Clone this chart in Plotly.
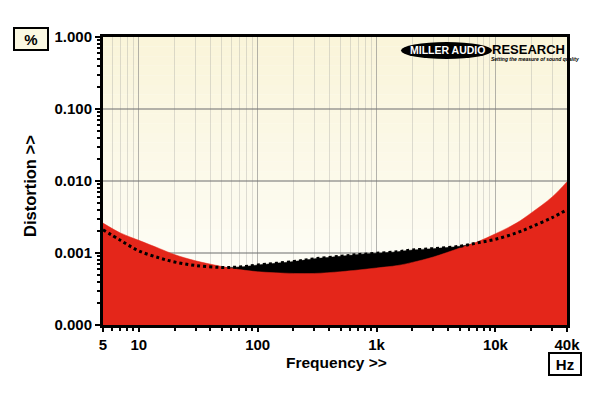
import numpy as np
import plotly.graph_objects as go

# ---- data ----
freq = [5, 7, 10, 15, 20, 30, 50, 70, 100, 200, 300, 500, 700, 1000, 1500,
        2000, 3000, 5000, 7000, 10000, 15000, 20000, 30000, 40000]
red_thd = [0.0026, 0.0019, 0.0015, 0.00115, 0.00095, 0.00078, 0.00065, 0.00059,
           0.00055, 0.00052, 0.00052, 0.00055, 0.00058, 0.00062, 0.00067,
           0.00074, 0.00088, 0.00117, 0.00142, 0.00185, 0.0026, 0.0036,
           0.0060, 0.0098]
black_thd = [0.0021, 0.0015, 0.00107, 0.00085, 0.00075, 0.00067, 0.00063, 0.00064,
             0.00068, 0.00076, 0.00083, 0.0009, 0.00095, 0.00099, 0.00104,
             0.0011, 0.00115, 0.00124, 0.00138, 0.00155, 0.0019, 0.0023,
             0.0031, 0.0040]

y_ticks = [0.0001, 0.001, 0.01, 0.1, 1]
y_ticktext = ["0.000", "0.001", "0.010", "0.100", "1.000"]
x_ticks = [5, 10, 100, 1000, 10000, 40000]
x_ticktext = ["5", "10", "100", "1k", "10k", "40k"]

x_minor = [m * d for d in [1, 10, 100, 1000, 10000] for m in range(2, 10)
           if 5 < m * d < 40000 and m * d not in x_ticks]
y_minor = [m * d for d in [0.0001, 0.001, 0.01, 0.1] for m in range(2, 10)]

y_floor = 1e-5
RED = "#e4261a"
FONT = "Liberation Sans, Arial, sans-serif"

# plot-area geometry in pixels (used only to place decorations)
L, R, T, B = 103, 567, 37, 325
def px(x):
    return (x - L) / (R - L)
def py(y):
    return (B - y) / (B - T)

fig = go.Figure()

base = [y_floor] * len(freq)
fig.add_trace(go.Scatter(x=freq, y=base, mode="lines", line=dict(width=0),
                         hoverinfo="skip", showlegend=False))
fig.add_trace(go.Scatter(x=freq, y=black_thd, mode="lines", fill="tonexty",
                         fillcolor="#000000",
                         line=dict(color="#000000", width=0.5, shape="spline"),
                         hoverinfo="skip", showlegend=False))
fig.add_trace(go.Scatter(x=freq, y=base, mode="lines", line=dict(width=0),
                         hoverinfo="skip", showlegend=False))
fig.add_trace(go.Scatter(x=freq, y=red_thd, mode="lines", fill="tonexty",
                         fillcolor=RED,
                         line=dict(color=RED, width=0.5, shape="spline"),
                         hoverinfo="skip", showlegend=False))
fig.add_trace(go.Scatter(x=freq, y=black_thd, mode="lines",
                         line=dict(color="#000000", width=3, dash="dot",
                                   shape="spline"),
                         showlegend=False))

# background gradient (cream at top, near-white lower down)
shapes = []
n = 30
top = np.array([250, 245, 218])
bot = np.array([254, 253, 245])
for i in range(n):
    t = i / (n - 1)
    c = (top + (bot - top) * min(1.0, t * 1.3)).astype(int)
    shapes.append(dict(type="rect", xref="x domain", yref="y domain",
                       x0=0, x1=1, y0=1 - (i + 1) / n, y1=1 - i / n,
                       fillcolor=f"rgb({c[0]},{c[1]},{c[2]})",
                       line=dict(width=0), layer="below"))
# logo ellipse
shapes.append(dict(type="circle", xref="paper", yref="paper",
                   x0=px(401), x1=px(492), y0=py(59), y1=py(42),
                   fillcolor="#000000", line=dict(width=0), layer="above"))

fig.update_layout(
    width=600, height=395,
    margin=dict(l=L, r=600 - R, t=T, b=395 - B),
    paper_bgcolor="white", plot_bgcolor="#fdfcf2",
    shapes=shapes,
    font=dict(family=FONT, size=14, color="black"),
)

fig.update_xaxes(
    type="log", range=[np.log10(5), np.log10(40000)], automargin=False,
    tickvals=x_ticks, ticktext=x_ticktext,
    tickfont=dict(family=FONT, size=15, color="black", weight="bold"),
    ticks="outside", ticklen=4, tickwidth=1.5, tickcolor="black",
    showgrid=True, gridcolor="rgba(120,120,120,0.55)", gridwidth=1,
    minor=dict(tickvals=x_minor, ticks="outside", ticklen=3, tickwidth=1.5,
               tickcolor="black", showgrid=True,
               gridcolor="rgba(150,150,150,0.3)", gridwidth=1),
    showline=True, linecolor="black", linewidth=3, mirror=True,
    layer="above traces", zeroline=False,
)
fig.update_yaxes(
    type="log", range=[-4, 0], automargin=False,
    tickvals=y_ticks, ticktext=y_ticktext,
    tickfont=dict(family=FONT, size=15, color="black", weight="bold"),
    ticks="outside", ticklen=5, tickwidth=1.5, tickcolor="black",
    showgrid=True, gridcolor="rgba(120,120,120,0.55)", gridwidth=1.5,
    minor=dict(tickvals=y_minor, ticks="outside", ticklen=3, tickwidth=1.5,
               tickcolor="black", showgrid=False),
    showline=True, linecolor="black", linewidth=3, mirror=True,
    layer="above traces", zeroline=False,
)

def note(text, x, y, size, color="black", xanchor="center", **kw):
    fig.add_annotation(text=text, xref="paper", yref="paper",
                       x=px(x), y=py(y), showarrow=False,
                       xanchor=xanchor, yanchor="middle",
                       font=dict(family=FONT, size=size, color=color), **kw)

# axis titles
note("<b>Frequency >></b>", 336, 362, 15.5)
note("<b>Distortion >></b>", 30, 186, 16.5, textangle=-90)

# unit boxes
note("<b>%</b>", 31, 38.5, 15, bgcolor="#fbf8e2", bordercolor="black",
     borderwidth=2, width=30, height=18, borderpad=1)
note("<b>Hz</b>", 564.5, 363.5, 15, bgcolor="white", bordercolor="black",
     borderwidth=2, width=28, height=18, borderpad=1)

# logo text
note("<b>MILLER AUDIO</b>", 447, 50, 10.5, color="white")
note("<b>RESEARCH</b>", 490, 49.5, 13, xanchor="left")
note("<b><i>Setting the measure of sound quality</i></b>", 489, 59, 5,
     xanchor="left")

fig.write_html("out.html", config={"displayModeBar": False},
               post_script="document.body.style.margin='0';")
